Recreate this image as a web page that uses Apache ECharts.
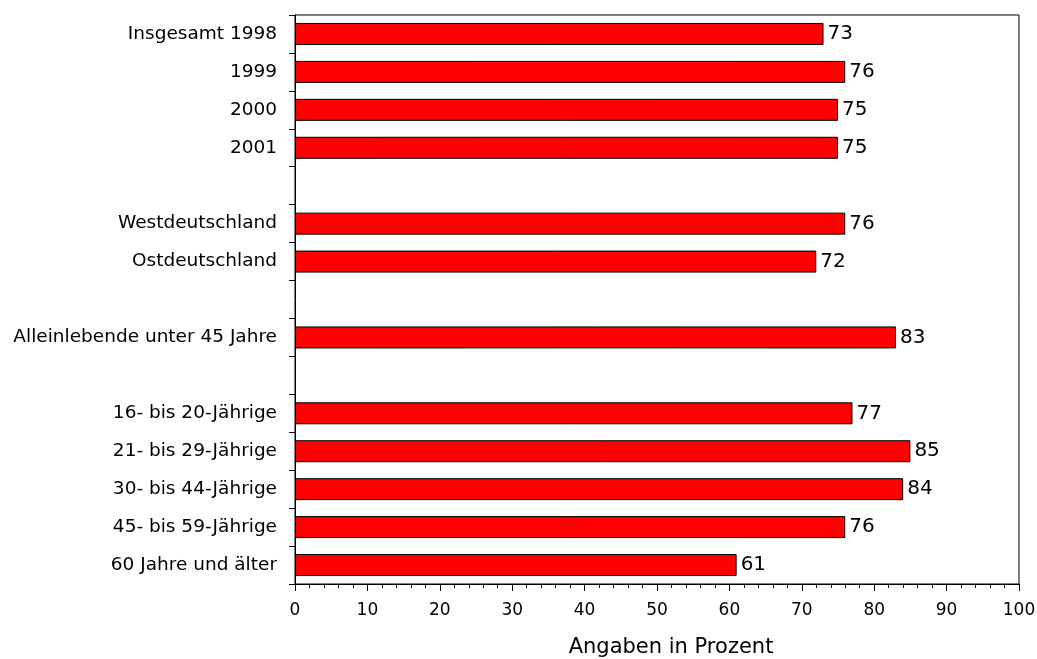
<!doctype html>
<html>
<head>
    <meta charset="utf-8" />
    <script src="https://cdn.jsdelivr.net/npm/echarts@6/dist/echarts.min.js"></script>
    <style>
        html, body { margin: 0; padding: 0; background: #fff; }
        #chart { width: 1037px; height: 659px; }
    </style>
</head>
<body>
<div id="chart"></div>
<script>
// blank slots keep the gaps between the groups
const categories = [
    'Insgesamt 1998', '1999', '2000', '2001', ' ',
    'Westdeutschland', 'Ostdeutschland', '  ',
    'Alleinlebende unter 45 Jahre', '   ',
    '16- bis 20-Jährige', '21- bis 29-Jährige', '30- bis 44-Jährige',
    '45- bis 59-Jährige', '60 Jahre und älter'
];
const values = [73, 76, 75, 75, '-', 76, 72, '-', 83, '-', 77, 85, 84, 76, 61];
const xTicks = { min: 0, max: 100, interval: 10 };
const xTitle = 'Angaben in Prozent';

const FONT = 'DejaVu Sans';

var myChart = echarts.init(document.getElementById('chart'));
myChart.setOption({
    animation: false,
    backgroundColor: '#ffffff',
    grid: {
        left: 295,
        right: 18,
        top: 15,
        bottom: 75,
        show: true,
        borderColor: '#000',
        borderWidth: 1,
        containLabel: false,
        outerBoundsMode: 'none'
    },
    xAxis: {
        type: 'value',
        min: xTicks.min,
        max: xTicks.max,
        interval: xTicks.interval,
        name: xTitle,
        nameLocation: 'middle',
        nameGap: 53,
        // title sits a little right of the plot centre in the original
        nameTextStyle: { fontFamily: FONT, fontSize: 21, color: '#000', padding: [0, 0, 0, 28] },
        axisLine: { show: true, lineStyle: { color: '#000', width: 1 } },
        axisTick: { show: true, inside: false, length: 7, lineStyle: { color: '#000' } },
        minorTick: { show: true, splitNumber: 5, length: 4, lineStyle: { color: '#000' } },
        splitLine: { show: false },
        axisLabel: { fontFamily: FONT, fontSize: 17, color: '#000', margin: 18 }
    },
    yAxis: {
        type: 'category',
        data: categories,
        inverse: true,
        axisLine: { show: true, lineStyle: { color: '#000', width: 1 } },
        axisTick: { show: true, inside: false, length: 6, alignWithLabel: false, lineStyle: { color: '#000' } },
        splitLine: { show: false },
        axisLabel: { fontFamily: FONT, fontSize: 18.5, color: '#000', margin: 18, interval: 0 }
    },
    series: [{
        type: 'bar',
        data: values,
        barWidth: 22,
        itemStyle: { color: '#ff0000', borderColor: '#000', borderWidth: 1 },
        label: {
            show: true,
            position: 'right',
            distance: 4,
            fontFamily: FONT,
            fontSize: 20,
            color: '#000'
        }
    }]
});
</script>
</body>
</html>
